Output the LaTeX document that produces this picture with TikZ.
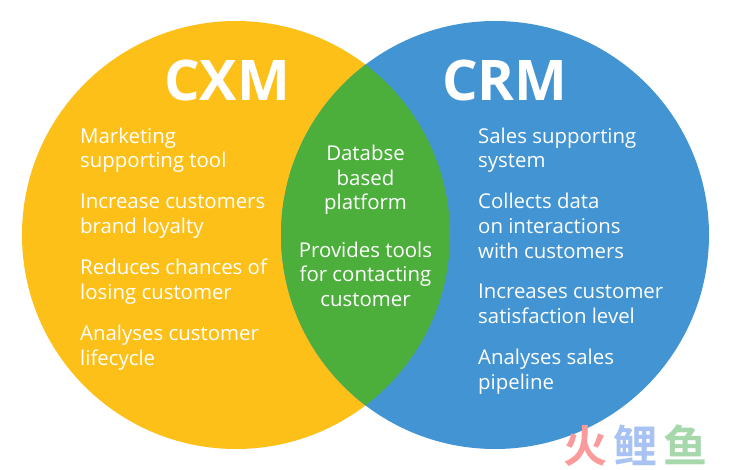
\documentclass[tikz,border=0pt]{standalone}
\usepackage{fontspec}
\setmainfont{Open Sans}
\newfontfamily\cjkmark{Noto Sans CJK SC}[BoldFont={Noto Sans CJK SC Bold}]
\definecolor{cxmcol}{HTML}{FDC019}
\definecolor{crmcol}{HTML}{4394D3}
\definecolor{bothcol}{HTML}{4CAF3C}
\definecolor{wmred}{HTML}{FB9A9A}
\definecolor{wmblue}{HTML}{A9C2F4}
\definecolor{wmgreen}{HTML}{A6D8AC}
\tikzset{x=1pt,y=-1pt,
  title/.style={text=white,font=\fontsize{56}{60}\selectfont\bfseries,anchor=base,inner sep=0pt},
  itemtext/.style={text=white,font=\fontsize{20.4}{24.7}\selectfont,inner sep=0pt,anchor=base west,align=left},
  midtext/.style={text=white,font=\fontsize{20.4}{24.7}\selectfont,inner sep=0pt,anchor=base,align=center},
  wm/.style={font=\fontsize{44}{46}\selectfont\cjkmark\bfseries,inner sep=0pt,anchor=base}}
\begin{document}
\begin{tikzpicture}
\useasboundingbox (0,0) rectangle (731,470);
\fill[white] (0,0) rectangle (731,470);
\coordinate (cl) at (236,235);
\coordinate (cr) at (495,235);
\fill[cxmcol] (cl) circle[radius=214];
\fill[crmcol] (cr) circle[radius=214];
\begin{scope}
\clip (cl) circle[radius=214];
\fill[bothcol] (cr) circle[radius=214];
\end{scope}
\node[title] (cxm) at (227,101) {CXM};
\node[title] (crm) at (505,101) {CRM};
\node[itemtext] (l1) at (80,168) {Marketing\\supporting tool};
\node[itemtext] (l2) at (80,233.7) {Increase customers\\brand loyalty};
\node[itemtext] (l3) at (80,299.5) {Reduces chances of\\losing customer};
\node[itemtext] (l4) at (80,365) {Analyses customer\\lifecycle};
\node[midtext] (m1) at (365.5,210) {Databse\\based\\platform};
\node[midtext] (m2) at (365.5,306.5) {Provides tools\\for contacting\\customer};
\node[itemtext] (r1) at (478,168) {Sales supporting\\system};
\node[itemtext] (r2) at (478,258.3) {Collects data\\on interactions\\with customers};
\node[itemtext] (r3) at (478,323.7) {Increases customer\\satisfaction level};
\node[itemtext] (r4) at (478,389.5) {Analyses sales\\pipeline};
\node[wm,text=wmred] (w1) at (585,462) {火};
\node[wm,text=wmblue] (w2) at (635,462) {鲤};
\node[wm,text=wmgreen] (w3) at (685,462) {鱼};
\end{tikzpicture}
\end{document}
